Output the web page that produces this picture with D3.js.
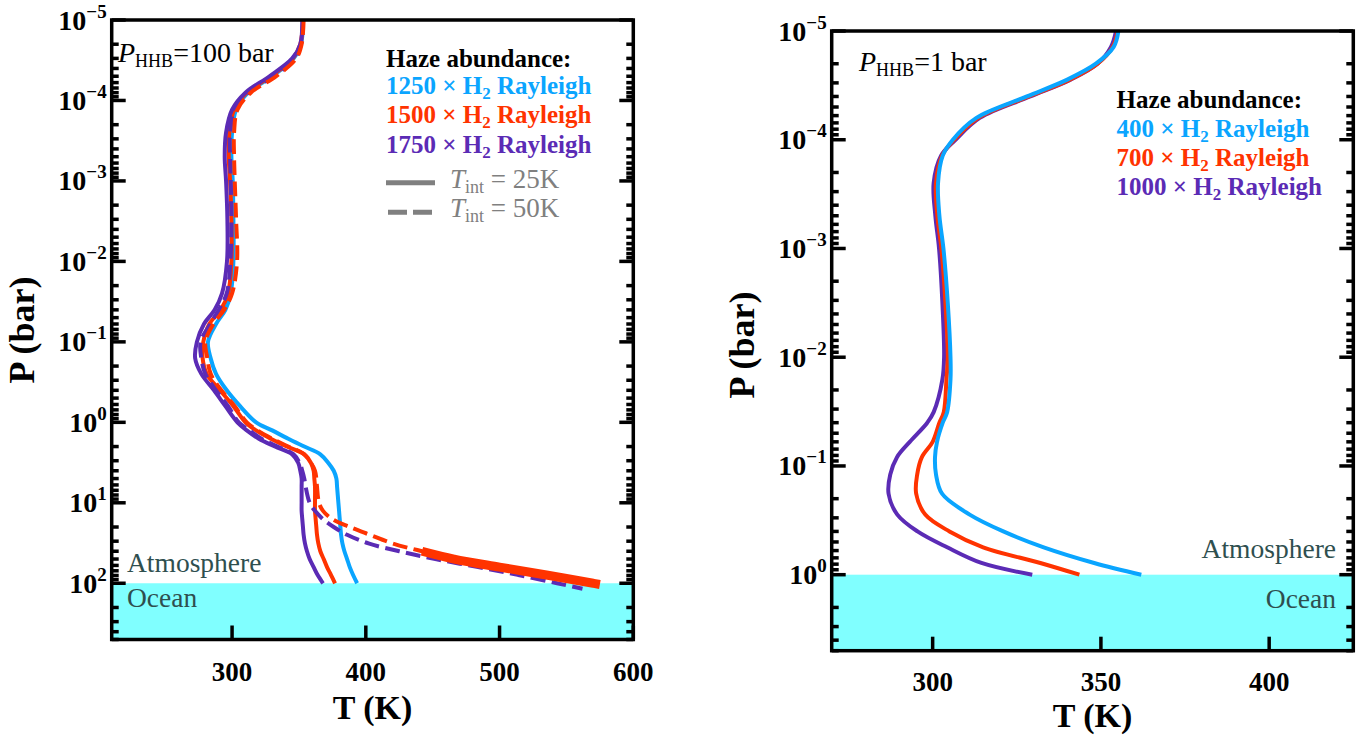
<!DOCTYPE html>
<html><head><meta charset="utf-8">
<script src="https://cdn.jsdelivr.net/npm/d3@7"></script>
<style>
body{margin:0;background:#fff}
svg{display:block}
</style>
</head><body>
<svg id="c" width="1371" height="736" font-family="'Liberation Serif', 'DejaVu Serif', 'Noto Serif', 'Times New Roman', Times, serif"></svg>
<script>
// ---------------- DATA ----------------
// Left panel (P_HHB = 100 bar): pressure grid in bar
const leftP = [1e-5,2e-5,3e-5,5e-5,8e-5,1.3e-4,2.5e-4,5e-4,1e-3,3e-3,
  1e-2,2.5e-2,4e-2,6e-2,0.1,0.16,0.25,0.4,0.63,
  1,1.26,1.6,2,2.5,3.2,4,5,6.3,
  10,12.6,16,20,25,32,40,50,63,79,100];
const leftPRed50 = leftP.concat([103.5]);
const leftPPurple50 = leftP.concat([117]);

// Temperatures (K), T_int = 25 K
const leftT_1250_25 = [353,351.5,346,330,312,303,300,299.5,300.5,301,
  301,299,295,288,282,284,288,296,306,
  318,330,342,354,366,372,376,378,378.5,
  379.5,380,380.5,381,381.5,382.5,384,386,388,390.5,393.5];
const leftT_1500_25 = [353,351,345.5,329,311,301.5,298,297.5,298.5,299.5,
  299.5,297,291.5,283,278.5,278,281,291,301,
  310,318,329,341,354,359,361,361.5,362,
  362,362,362.5,363,363.5,364.5,366,368.5,371,374,377];
const leftT_1750_25 = [352.5,351,345,328,310,300,295.5,294.5,295.5,296.5,
  296.2,292.5,287,279,273.7,272.4,277,286.5,295,
  304,311,320,332,345,349.5,351,352,352,
  352,352,352.5,353,353.5,354.5,356,358,361,364,368];
// T_int = 50 K
const leftT_1500_50 = [353.5,352,348,333,314,304,301.5,301.5,302,303,
  303.7,300,294,286,280,281.5,284,292,302,
  311,319,330,342,354,359,362,363,363.5,
  365,368,375,388,403,420,442,466,500,535,570,575];
const leftT_1750_50 = [353,351.5,347,331,312,302,298.5,298.5,299,299.5,
  298.7,296,290,283.7,276.5,277,280,288,297,
  305,313,322,334,346,350.5,352.5,354,355,
  358,362,368,376,386,402,425,452,484,514,543,562];

// Right panel (P_HHB = 1 bar)
const rightP = [1e-5,1.4e-5,2e-5,2.8e-5,4e-5,6.3e-5,1e-4,1.4e-4,2.5e-4,5e-4,
  1e-3,3.2e-3,1e-2,1.6e-2,3.2e-2,4e-2,6e-2,8.3e-2,0.12,0.18,0.28,0.4,0.56,0.78,1.0];
const rightT_400 = [355.2,353.8,348.5,340,328,313,306,303,301.6,302,
  303.2,304.5,305.3,305.3,304.3,303,301.3,300.7,301,302.8,311,321,333,348,362];
const rightT_700 = [355,353.5,349,340.8,328.6,313.6,306.4,302.8,301,301.4,
  302.6,303.8,304.5,304.1,303.3,302,300,296.8,295.4,295.1,297.8,305,315,332,343.6];
const rightT_1000 = [354.5,353,349,341,329,314,306.8,302.5,300.3,300.8,
  301.9,302.9,303.4,302.9,300.3,298.4,293.2,289.4,287.4,286.9,289.5,295.5,304.3,314.5,329.6];

// tick values / labels
const leftXTicks = [300,400,500,600];
const rightXTicks = [300,350,400];
const leftYExp = [-5,-4,-3,-2,-1,0,1,2];
const rightYExp = [-5,-4,-3,-2,-1,0];
const leftHaze = ["1250","1500","1750"];
const rightHaze = ["400","700","1000"];
const tintLabels = ["25K","50K"];

// ---------------- STYLE ----------------
const COL = {blue:"#0aa5ff", red:"#ff3300", purple:"#5b2bb5"};
const OCEAN = "#80ffff";
const TXT = "#2f4f4f";
const svg = d3.select("#c");

function pts(P,T){ return P.map((p,i)=>({P:p,T:T[i]})); }

function panel(cfg){
  const g = svg.append("g");
  const x = d3.scaleLinear().domain(cfg.xDomain).range([cfg.x0,cfg.x1]);
  const y = d3.scaleLog().domain(cfg.yDomain).range([cfg.y0,cfg.y1]);
  const clip = "clip"+cfg.id;
  svg.append("clipPath").attr("id",clip).append("rect")
    .attr("x",cfg.x0).attr("y",cfg.y0).attr("width",cfg.x1-cfg.x0).attr("height",cfg.y1-cfg.y0);
  // ocean
  g.append("rect").attr("x",cfg.x0).attr("y",y(cfg.surfaceP))
    .attr("width",cfg.x1-cfg.x0).attr("height",cfg.y1-y(cfg.surfaceP)).attr("fill",OCEAN);
  // curves
  const line = d3.line().x(d=>x(d.T)).y(d=>y(d.P)).curve(d3.curveCatmullRom.alpha(0.5));
  const cg = g.append("g").attr("clip-path",`url(#${clip})`);
  cfg.series.forEach(s=>{
    let data = pts(s.P,s.T);
    if (s.minT) data = data.filter(d=>d.T>=s.minT);
    cg.append("path").attr("d",line(data)).attr("fill","none")
      .attr("stroke",s.color).attr("stroke-width",s.width||4)
      .attr("stroke-dasharray",s.dash||null).attr("stroke-linecap","butt");
  });
  // y ticks (major + minor) on both spines, inward
  const [lo,hi] = cfg.yDomain;
  const tg = g.append("g").attr("stroke","#000").attr("stroke-width",3.5);
  for(let e=Math.floor(Math.log10(lo)); e<=Math.ceil(Math.log10(hi)); e++){
    for(let m=1;m<=9;m++){
      const v = m*Math.pow(10,e);
      if (v<lo*0.999 || v>hi*1.001) continue;
      const yy = y(v), L = m===1?14:7;
      tg.append("line").attr("x1",cfg.x0).attr("x2",cfg.x0+L).attr("y1",yy).attr("y2",yy);
      tg.append("line").attr("x1",cfg.x1).attr("x2",cfg.x1-L).attr("y1",yy).attr("y2",yy);
    }
  }
  cfg.xTicks.forEach(v=>{
    tg.append("line").attr("x1",x(v)).attr("x2",x(v)).attr("y1",cfg.y1).attr("y2",cfg.y1-14);
  });
  // y tick labels
  cfg.yExp.forEach(e=>{
    const t = g.append("text").attr("x",cfg.x0-5).attr("y",y(Math.pow(10,e))+9.5)
      .attr("text-anchor","end").attr("font-size",28).attr("font-weight","bold").attr("fill","#000");
    t.append("tspan").text("10");
    t.append("tspan").attr("dy",-12).attr("font-size",19).text(String(e).replace("-","\u2212"));
  });
  // x tick labels
  cfg.xTicks.forEach(v=>{
    g.append("text").attr("x",x(v)).attr("y",cfg.xLabelY).attr("text-anchor","middle")
      .attr("font-size",27).attr("font-weight","bold").text(v);
  });
  // spines
  g.append("rect").attr("x",cfg.x0).attr("y",cfg.y0).attr("width",cfg.x1-cfg.x0)
    .attr("height",cfg.y1-cfg.y0).attr("fill","none").attr("stroke","#000").attr("stroke-width",3.5);
  // axis titles
  g.append("text").attr("x",(cfg.x0+cfg.x1)/2).attr("y",cfg.xTitleY).attr("text-anchor","middle")
    .attr("font-size",34).attr("font-weight","bold").text("T (K)");
  g.append("text").attr("transform",`translate(${cfg.yTitleX},${cfg.yTitleY}) rotate(-90)`)
    .attr("text-anchor","middle").attr("font-size",36).attr("font-weight","bold").text("P (bar)");
  // P_HHB label
  const ph = g.append("text").attr("x",cfg.phX).attr("y",cfg.phY).attr("font-size",28);
  ph.append("tspan").attr("font-style","italic").text("P");
  ph.append("tspan").attr("dy",5).attr("font-size",18).text("HHB");
  ph.append("tspan").attr("dy",-5).text(cfg.phText);
  // atmosphere / ocean
  g.append("text").attr("x",cfg.atmX).attr("y",cfg.atmY).attr("text-anchor",cfg.anchor)
    .attr("font-size",27.5).attr("fill",TXT).text("Atmosphere");
  g.append("text").attr("x",cfg.atmX).attr("y",cfg.oceanY).attr("text-anchor",cfg.anchor)
    .attr("font-size",27.5).attr("fill",TXT).text("Ocean");
  // legend
  g.append("text").attr("x",cfg.legX).attr("y",cfg.legY[0]).attr("font-size",25)
    .attr("font-weight","bold").attr("fill","#000").text("Haze abundance:");
  cfg.haze.forEach((h,i)=>{
    const t = g.append("text").attr("x",cfg.legX).attr("y",cfg.legY[i+1]).attr("font-size",25)
      .attr("font-weight","bold").attr("fill",cfg.hazeCol[i]);
    t.append("tspan").text(`${h} \u00d7 H`);
    t.append("tspan").attr("dy",5).attr("font-size",17).text("2");
    t.append("tspan").attr("dy",-5).text(" Rayleigh");
  });
  return {g,x,y};
}

const left = panel({
  id:"L", x0:111.7, x1:633.3, y0:20, y1:639.5, xDomain:[210,600], yDomain:[1e-5,500], surfaceP:100,
  xTicks:leftXTicks, yExp:leftYExp, xLabelY:681, xTitleY:719, yTitleX:34, yTitleY:330,
  phX:118, phY:62, phText:"=100 bar",
  atmX:127, atmY:572, oceanY:607, anchor:"start",
  legX:386, legY:[67,93.5,123.3,152.7], haze:leftHaze, hazeCol:[COL.blue,COL.red,COL.purple],
  series:[
    {P:leftP,T:leftT_1250_25,color:COL.blue},
    {P:leftP,T:leftT_1500_25,color:COL.red},
    {P:leftP,T:leftT_1750_25,color:COL.purple},
    {P:leftPPurple50,T:leftT_1750_50,color:COL.purple,dash:"14.8,6.4"},
    {P:leftPRed50,T:leftT_1500_50,color:COL.red,dash:"14.8,6.4"},
    {P:leftPRed50,T:leftT_1500_50,color:COL.red,width:9,minT:440}
  ]
});
// T_int legend (line styles)
const tl = left.g.append("g");
tintLabels.forEach((lab,i)=>{
  const yy = 182.7 + i*29.6;
  tl.append("line").attr("x1",386+(i?2:0)).attr("x2",435-(i?2:0)).attr("y1",yy).attr("y2",yy)
    .attr("stroke","#808080").attr("stroke-width",5).attr("stroke-dasharray",i?"19,6":null);
  const t = tl.append("text").attr("x",450).attr("y",yy+5).attr("font-size",27).attr("fill","#808080");
  t.append("tspan").attr("font-style","italic").text("T");
  t.append("tspan").attr("dy",5).attr("font-size",18).text("int");
  t.append("tspan").attr("dy",-5).text(" = "+lab);
});

panel({
  id:"R", x0:831.7, x1:1353.3, y0:31, y1:650.7, xDomain:[270,425], yDomain:[1e-5,5], surfaceP:1,
  xTicks:rightXTicks, yExp:rightYExp, xLabelY:691, xTitleY:727, yTitleX:754, yTitleY:345,
  phX:859, phY:71, phText:"=1 bar",
  atmX:1336, atmY:558, oceanY:608, anchor:"end",
  legX:1116.6, legY:[108,136.5,165.7,195], haze:rightHaze, hazeCol:[COL.blue,COL.red,COL.purple],
  series:[
    {P:rightP,T:rightT_1000,color:COL.purple},
    {P:rightP,T:rightT_700,color:COL.red},
    {P:rightP,T:rightT_400,color:COL.blue}
  ]
});
</script>
</body></html>
